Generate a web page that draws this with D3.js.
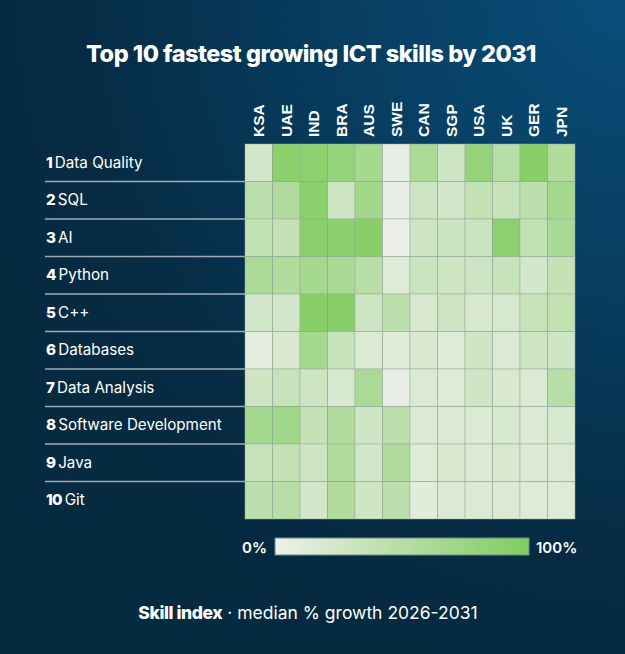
<!DOCTYPE html>
<html>
<head>
<meta charset="utf-8">
<script src="https://cdn.jsdelivr.net/npm/d3@7"></script>
<style>
  html, body { margin: 0; padding: 0; background: #062a40; }
  svg { display: block; }
</style>
</head>
<body>
<svg id="figure"></svg>
<script>
// countries across the top, skills down the side
const countries = ["KSA", "UAE", "IND", "BRA", "AUS", "SWE", "CAN", "SGP", "USA", "UK", "GER", "JPN"];
const skills = ["Data Quality", "SQL", "AI", "Python", "C++", "Databases", "Data Analysis",
    "Software Development", "Java", "Git"];

// skill index per country (0-100), one array per skill
const dataQuality = [25, 90, 88, 80, 65, 5, 60, 30, 80, 50, 92, 55];
const sql = [45, 55, 90, 30, 70, 5, 30, 25, 40, 35, 45, 65];
const ai = [40, 40, 90, 90, 92, 3, 30, 32, 32, 88, 40, 62];
const python = [60, 55, 65, 62, 50, 15, 32, 28, 30, 35, 25, 38];
const cpp = [25, 25, 92, 92, 30, 45, 20, 30, 20, 22, 35, 40];
const databases = [10, 20, 65, 35, 18, 15, 20, 15, 28, 17, 30, 28];
const dataAnalysis = [30, 35, 30, 22, 60, 5, 18, 15, 28, 20, 18, 50];
const softwareDev = [65, 70, 38, 55, 28, 45, 17, 17, 18, 22, 17, 22];
const java = [35, 40, 30, 57, 25, 55, 15, 20, 18, 20, 16, 18];
const git = [45, 50, 25, 55, 28, 45, 12, 18, 18, 18, 15, 15];

const legendLabels = ["0%", "100%"];

const rowsValues = [dataQuality, sql, ai, python, cpp, databases, dataAnalysis, softwareDev, java, git];

const W = 625, H = 654;
const grid = {left: 245, right: 575, top: 144, bottom: 519};

const svg = d3.select("#figure")
    .attr("width", W)
    .attr("height", H);

// background glow, lighter towards the top right corner
const defs = svg.append("defs");
const bg = defs.append("radialGradient")
    .attr("id", "bg")
    .attr("gradientUnits", "userSpaceOnUse")
    .attr("cx", 640).attr("cy", -20).attr("r", 720);
bg.append("stop").attr("offset", "0%").attr("stop-color", "#0a4f7c");
bg.append("stop").attr("offset", "45%").attr("stop-color", "#073c5e");
bg.append("stop").attr("offset", "80%").attr("stop-color", "#062b43");
bg.append("stop").attr("offset", "100%").attr("stop-color", "#062a40");

svg.append("rect")
    .attr("width", W).attr("height", H)
    .attr("fill", "url(#bg)");

const color = d3.scaleLinear()
    .domain([0, 100])
    .range(["#eef0ec", "#7fcc5f"]);

const x = d3.scaleBand()
    .domain(countries)
    .range([grid.left, grid.right]);

const y = d3.scaleBand()
    .domain(skills)
    .range([grid.top, grid.bottom]);

// title
svg.append("text")
    .attr("x", 311)
    .attr("y", 62)
    .attr("text-anchor", "middle")
    .attr("fill", "#fff")
    .style("font-family", "Inter, 'Noto Sans', sans-serif")
    .style("font-weight", 800)
    .style("font-size", "23.5px")
    .style("letter-spacing", "-0.5px")
    .text("Top 10 fastest growing ICT skills by 2031");

// separators between the skill rows
svg.append("g")
    .selectAll("line")
    .data(skills.slice(1))
    .join("line")
    .attr("x1", 45)
    .attr("x2", grid.left)
    .attr("y1", d => y(d))
    .attr("y2", d => y(d))
    .attr("stroke", "#b9c4cb")
    .attr("stroke-opacity", 0.85)
    .attr("stroke-width", 1.5);

// row labels
const rowLabels = svg.append("g")
    .selectAll("text")
    .data(skills)
    .join("text")
    .attr("x", 46)
    .attr("y", d => y(d) + y.bandwidth() / 2 + 5)
    .attr("fill", "#fff")
    .style("font-family", "Inter, 'Noto Sans', sans-serif")
    .style("font-size", "15.2px");
rowLabels.append("tspan")
    .style("font-weight", 800)
    .style("letter-spacing", "-0.6px")
    .text((d, i) => (i + 1) + " ");
rowLabels.append("tspan")
    .text(d => d);

// column labels, rotated
svg.append("g")
    .selectAll("text")
    .data(countries)
    .join("text")
    .attr("transform", d => `translate(${x(d) + x.bandwidth() / 2 + 5.5},137) rotate(-90)`)
    .attr("fill", "#fff")
    .style("font-family", "'Liberation Sans', Arial, sans-serif")
    .style("font-weight", 700)
    .style("font-size", "15.5px")
    .text(d => d);

// heatmap cells
const cells = [];
rowsValues.forEach((vals, i) => {
    vals.forEach((v, j) => cells.push({skill: skills[i], country: countries[j], value: v}));
});

svg.append("g")
    .selectAll("rect")
    .data(cells)
    .join("rect")
    .attr("x", d => x(d.country))
    .attr("y", d => y(d.skill))
    .attr("width", x.bandwidth())
    .attr("height", y.bandwidth())
    .attr("fill", d => color(d.value))
    .attr("stroke", "#98a99a")
    .attr("stroke-opacity", 0.6)
    .attr("stroke-width", 0.8);

// legend
const lg = defs.append("linearGradient").attr("id", "legend");
lg.append("stop").attr("offset", "0%").attr("stop-color", color(0));
lg.append("stop").attr("offset", "100%").attr("stop-color", color(100));

const legendX = d3.scaleLinear().domain([0, 100]).range([275, 529]);

svg.append("rect")
    .attr("x", legendX(0))
    .attr("y", 538)
    .attr("width", legendX(100) - legendX(0))
    .attr("height", 17)
    .attr("fill", "url(#legend)")
    .attr("stroke", "#6f8c80")
    .attr("stroke-width", 1);

svg.append("text")
    .attr("x", legendX(0) - 8)
    .attr("y", 553)
    .attr("text-anchor", "end")
    .attr("fill", "#fff")
    .style("font-family", "Inter, 'Noto Sans', sans-serif")
    .style("font-weight", 600)
    .style("font-size", "15px")
    .text(legendLabels[0]);

svg.append("text")
    .attr("x", legendX(100) + 7)
    .attr("y", 553)
    .attr("fill", "#fff")
    .style("font-family", "Inter, 'Noto Sans', sans-serif")
    .style("font-weight", 600)
    .style("font-size", "15px")
    .text(legendLabels[1]);

// footer
const foot = svg.append("text")
    .attr("x", 308)
    .attr("y", 619)
    .attr("text-anchor", "middle")
    .attr("fill", "#fff")
    .style("font-family", "Inter, 'Noto Sans', sans-serif")
    .style("font-size", "17.5px");
foot.append("tspan").style("font-weight", 800).style("letter-spacing", "-0.4px").text("Skill index");
foot.append("tspan").text(" · median % growth 2026-2031");
</script>
</body>
</html>
